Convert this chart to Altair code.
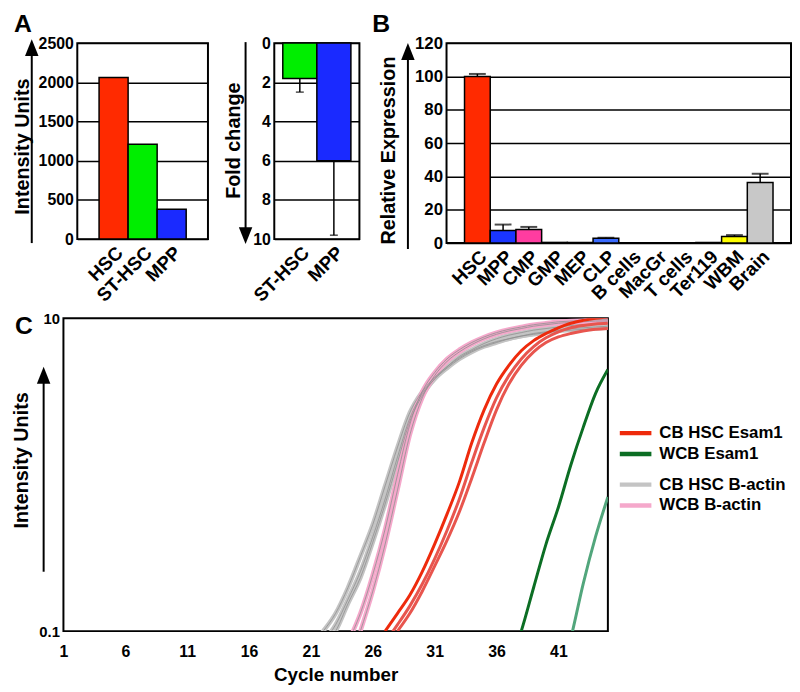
import altair as alt
import pandas as pd

FONT = "Liberation Sans"

# ---------------- Panel A (left): intensity ----------------
a_cells = ["HSC", "ST-HSC", "MPP"]
a_intensity = [2060, 1210, 380]
a_colors = ["#ff2a00", "#00ee00", "#1a2aff"]
a_ticks = [0, 500, 1000, 1500, 2000, 2500]

# ---------------- Panel A (right): fold change ----------------
fold_cells = ["ST-HSC", "MPP"]
fold_values = [1.8, 6.0]
fold_err_top = [2.5, 9.8]
fold_colors = ["#00ee00", "#1a2aff"]
fold_ticks = [0, 2, 4, 6, 8, 10]

# ---------------- Panel B: relative expression ----------------
b_cells = ["HSC", "MPP", "CMP", "GMP", "MEP", "CLP", "B cells", "MacGr",
           "T cells", "Ter119", "WBM", "Brain"]
b_values = [100, 7.6, 8.2, 0.4, 0.4, 2.9, 0, 0, 0, 0.4, 3.9, 36.4]
b_err_top = [101.5, 11.1, 9.7, None, None, 3.2, None, None, None, None, 4.8, 41.6]
b_colors = ["#ff2a00", "#1a35ff", "#ff3ca0", "#222222", "#222222", "#3a6bff",
            "#ffffff", "#ffffff", "#ffffff", "#222222", "#ffff00", "#c8c8c8"]
b_ticks = [0, 20, 40, 60, 80, 100, 120]

# ---------------- Panel C: amplification curves ----------------
gray_1_cycles = list(range(21, 46))
gray_1 = [0.08, 0.1, 0.13, 0.19, 0.3, 0.48, 0.85, 1.5, 2.5, 3.4, 4.2, 4.9, 5.6,
          6.2, 6.7, 7.1, 7.4, 7.7, 7.9, 8.1, 8.3, 8.4, 8.5, 8.6, 8.7]
gray_2_cycles = list(range(22, 46))
gray_2 = [0.085, 0.11, 0.16, 0.24, 0.4, 0.7, 1.3, 2.3, 3.3, 4.1, 4.8, 5.5, 6.1,
          6.6, 7.0, 7.4, 7.7, 8.0, 8.2, 8.4, 8.6, 8.7, 8.8, 8.9]
gray_3_cycles = list(range(22, 46))
gray_3 = [0.08, 0.1, 0.15, 0.22, 0.37, 0.65, 1.2, 2.2, 3.2, 4.1, 4.9, 5.7, 6.3,
          6.9, 7.4, 7.8, 8.1, 8.4, 8.6, 8.8, 9.0, 9.1, 9.2, 9.3]
pink_1_cycles = list(range(24, 46))
pink_1 = [0.085, 0.13, 0.23, 0.45, 1.0, 2.1, 3.4, 4.5, 5.5, 6.3, 7.0, 7.6, 8.1,
          8.5, 8.8, 9.1, 9.3, 9.5, 9.6, 9.7, 9.8, 9.8]
pink_2_cycles = list(range(25, 46))
pink_2 = [0.1, 0.18, 0.36, 0.8, 1.8, 3.1, 4.3, 5.3, 6.1, 6.8, 7.4, 7.9, 8.3,
          8.6, 8.9, 9.1, 9.3, 9.4, 9.5, 9.6, 9.6]
red_1_cycles = list(range(27, 46))
red_1 = [0.1, 0.13, 0.17, 0.24, 0.36, 0.56, 0.9, 1.6, 2.6, 3.8, 5.0, 6.2, 7.2,
         8.0, 8.7, 9.3, 9.7, 10.0, 10.2]
red_2_cycles = list(range(27, 46))
red_2 = [0.085, 0.11, 0.145, 0.2, 0.29, 0.44, 0.7, 1.2, 2.0, 3.1, 4.3, 5.5, 6.6,
         7.5, 8.2, 8.7, 9.0, 9.2, 9.3]
red_3_cycles = list(range(28, 46))
red_3 = [0.1, 0.13, 0.18, 0.26, 0.38, 0.58, 0.95, 1.6, 2.6, 3.8, 5.0, 6.1, 7.0,
         7.6, 8.0, 8.3, 8.5, 8.6]
green_1_cycles = list(range(37, 46))
green_1 = [0.06, 0.1, 0.19, 0.36, 0.62, 1.15, 2.0, 3.3, 4.7]
green_2_cycles = list(range(41, 46))
green_2 = [0.05, 0.09, 0.2, 0.4, 0.72]
c_xticks = [1, 6, 11, 16, 21, 26, 31, 36, 41]

esam_names = ["CB HSC Esam1", "WCB Esam1", "CB HSC Esam1 rep", "WCB Esam1 rep"]
esam_colors = ["#ee2a0c", "#0c6e24", "#e8554e", "#52a67c"]
actin_names = ["CB HSC B-actin", "WCB B-actin"]
actin_colors = ["#c4c4c4", "#f5a8cb"]

# ---------------- layout sizes ----------------
A1_W, A1_H = 132, 198
A2_W, A2_H = 86, 198
B_W, B_H = 348, 202
C_W, C_H = 550, 316

ARROW_UP = "M-0.8,1L0,-1L0.8,1Z"
ARROW_DOWN = "M-0.8,-1L0,1L0.8,-1Z"
LEGEND_LINE = "M-1.68,0L1.68,0"

ann = pd.DataFrame({"k": [0]})


def arrow(x, y_from, y_to, tip_y, up=True):
    line = alt.Chart(ann).mark_rule(color="black", strokeWidth=2).encode(
        x=alt.value(x), y=alt.value(y_from), y2=alt.value(y_to))
    center = tip_y + 8.5 if up else tip_y - 8.5
    head = alt.Chart(ann).mark_point(
        shape=ARROW_UP if up else ARROW_DOWN, filled=True, size=289,
        color="black", opacity=1).encode(x=alt.value(x), y=alt.value(center))
    return [line, head]


def panel_label(letter, x, y):
    return alt.Chart(ann).mark_text(
        text=letter, fontSize=25, fontWeight="bold", align="left",
        baseline="alphabetic", font=FONT, color="black").encode(
        x=alt.value(x), y=alt.value(y))


def band_x(domain, pad_outer, label_size=19):
    return alt.X("cell:N", sort=domain,
                 scale=alt.Scale(domain=domain, paddingInner=0, paddingOuter=pad_outer),
                 axis=alt.Axis(title=None, labelAngle=-45, labelFontSize=label_size,
                               labelFontWeight="bold", ticks=False, domain=False,
                               labelPadding=4, labelColor="black"))


def y_scale_axis(domain, ticks, title, title_x, title_y, reverse=False, label_size=16):
    scale = alt.Scale(domain=domain, nice=False, zero=True, reverse=reverse)
    axis = alt.Axis(values=ticks, format="d", title=title, grid=True,
                    gridColor="black", gridWidth=1.5, ticks=False, domain=False,
                    labelOverlap=False, labelFontSize=label_size,
                    labelFontWeight="bold", labelPadding=4, labelColor="black",
                    titleFontSize=20, titleFontWeight="bold",
                    titleAngle=-90, titleAlign="center",
                    titleBaseline="alphabetic", titleX=title_x,
                    titleY=title_y, titleColor="black")
    return scale, axis


def bar_panel(df, err_df, domain, colors, pad_outer, yspec, cap_size, cap_thick):
    scale, axis = yspec
    xenc = band_x(domain, pad_outer)
    bars = alt.Chart(df).mark_bar(stroke="black", strokeWidth=1.5).encode(
        x=xenc,
        y=alt.Y("value:Q", scale=scale, axis=axis),
        color=alt.Color("cell:N", scale=alt.Scale(domain=domain, range=colors), legend=None),
    )
    layers = [bars]
    if err_df is not None:
        rule = alt.Chart(err_df).mark_rule(color="black", strokeWidth=1.5).encode(
            x=xenc, y=alt.Y("value:Q", scale=scale, axis=axis), y2="top:Q")
        cap = alt.Chart(err_df).mark_tick(color="black", size=cap_size,
                                          thickness=cap_thick).encode(
            x=xenc, y=alt.Y("top:Q", scale=scale, axis=axis))
        layers += [rule, cap]
    return layers


# ---------- A1 ----------
a1_df = pd.DataFrame({"cell": a_cells, "value": a_intensity})
a1_layers = bar_panel(a1_df, None, a_cells, a_colors, 0.75,
                      y_scale_axis([0, 2500], a_ticks, "Intensity Units", -49, 104), 0, 0)
a1 = alt.layer(*a1_layers, *arrow(-46, A1_H + 4, 10, -4, up=True),
               panel_label("A", -64, -11)).properties(width=A1_W, height=A1_H)

# ---------- A2 ----------
a2_df = pd.DataFrame({"cell": fold_cells, "value": fold_values, "top": fold_err_top})
a2_layers = bar_panel(a2_df, a2_df, fold_cells, fold_colors, 0.25,
                      y_scale_axis([0, 10], fold_ticks, "Fold change", -35, 98, reverse=True),
                      8, 1.5)
a2 = alt.layer(*a2_layers,
               *arrow(-29, -1, A2_H - 8, A2_H + 5, up=False)).properties(width=A2_W, height=A2_H)

# ---------- B ----------
b_df = pd.DataFrame({"cell": b_cells, "value": b_values, "top": b_err_top})
b_err_df = b_df.dropna()
b_layers = bar_panel(b_df, b_err_df, b_cells, b_colors, 0.7,
                     y_scale_axis([0, 120], b_ticks, "Relative Expression", -53, 108,
                                  label_size=17), 17, 2)
b = alt.layer(*b_layers, *arrow(-39, B_H + 6, 12, 0, up=True),
              panel_label("B", -75, -11)).properties(width=B_W, height=B_H)

# ---------- C ----------
def curve_rows(name, series, cycles, values):
    return [{"curve": name, "series": series, "cycle": c, "value": v}
            for c, v in zip(cycles, values)]

actin_rows = (curve_rows("g1", "CB HSC B-actin", gray_1_cycles, gray_1)
              + curve_rows("g2", "CB HSC B-actin", gray_2_cycles, gray_2)
              + curve_rows("g3", "CB HSC B-actin", gray_3_cycles, gray_3)
              + curve_rows("p1", "WCB B-actin", pink_1_cycles, pink_1)
              + curve_rows("p2", "WCB B-actin", pink_2_cycles, pink_2))
esam_rows = (curve_rows("r1", "CB HSC Esam1", red_1_cycles, red_1)
             + curve_rows("r2", "CB HSC Esam1 rep", red_2_cycles, red_2)
             + curve_rows("r3", "CB HSC Esam1 rep", red_3_cycles, red_3)
             + curve_rows("w1", "WCB Esam1", green_1_cycles, green_1)
             + curve_rows("w2", "WCB Esam1 rep", green_2_cycles, green_2))
actin_df = pd.DataFrame(actin_rows)
esam_df = pd.DataFrame(esam_rows)

cx = alt.X("cycle:Q", scale=alt.Scale(domain=[1, 45], nice=False, zero=False),
           axis=alt.Axis(values=c_xticks, title="Cycle number", grid=False, ticks=False,
                         domain=False, labelFlush=False, labelFontSize=16,
                         labelFontWeight="bold", labelPadding=13, labelColor="black",
                         titleFontSize=19, titleFontWeight="bold", titlePadding=6,
                         titleColor="black"))
cy = alt.Y("value:Q", scale=alt.Scale(type="log", domain=[0.1, 10], nice=False),
           axis=alt.Axis(values=[0.1, 10], format="~g", title="Intensity Units",
                         grid=False, ticks=False, domain=False, labelFontSize=15,
                         labelFontWeight="bold", labelPadding=4, labelColor="black",
                         titleFontSize=20, titleFontWeight="bold", titleAngle=-90,
                         titleAlign="center", titleBaseline="alphabetic",
                         titleX=-36, titleY=143, titleColor="black"))

legend_common = dict(title=None, orient="none", legendX=C_W + 16, symbolType=LEGEND_LINE,
                     symbolSize=361, symbolStrokeWidth=4.5, labelFontSize=17,
                     labelFontWeight="bold", labelOffset=12, labelColor="black",
                     padding=0, rowPadding=0)

actin_lines = alt.Chart(actin_df).mark_line(strokeWidth=4.5, interpolate="monotone", clip=True).encode(
    x=cx, y=cy,
    stroke=alt.Stroke("series:N", scale=alt.Scale(domain=actin_names, range=actin_colors),
                      legend=alt.Legend(legendY=156, **legend_common)),
    detail="curve:N",
)
actin_core = alt.Chart(actin_df).mark_line(strokeWidth=1, interpolate="monotone", clip=True,
                                           stroke="#8f8f8f", opacity=0.8).encode(
    x=cx, y=cy, detail="curve:N")
esam_lines = alt.Chart(esam_df).mark_line(strokeWidth=3, interpolate="monotone", clip=True).encode(
    x=cx, y=cy,
    color=alt.Color("series:N", scale=alt.Scale(domain=esam_names, range=esam_colors),
                    legend=alt.Legend(legendY=104, values=["CB HSC Esam1", "WCB Esam1"],
                                      **legend_common)),
    detail="curve:N",
)
c = alt.layer(actin_lines, actin_core, esam_lines,
              *arrow(-20, 256, 60, 49, up=True),
              panel_label("C", -49, 16)).properties(width=C_W, height=C_H)


def spacer(w):
    return alt.Chart(ann).mark_point(opacity=0, size=0).encode(
        x=alt.value(0), y=alt.value(0)).properties(
        width=w, height=1, view=alt.ViewBackground(stroke="transparent"))


INDEP = dict(color="independent", stroke="independent", x="independent", y="independent")

top_row = alt.hconcat(spacer(1), a1, spacer(12), a2, spacer(9), b,
                      spacing=0).resolve_scale(**INDEP)
bottom_row = alt.hconcat(spacer(1), c, spacing=0).resolve_scale(**INDEP)

chart = alt.vconcat(top_row, bottom_row, spacing=4).resolve_scale(**INDEP).properties(
    padding=0
).configure(font=FONT).configure_view(
    stroke="black", strokeWidth=2
).configure_axis(
    labelFont=FONT, titleFont=FONT
).configure_legend(labelFont=FONT)

chart.save("out.html", embed_options={"renderer": "svg", "actions": False})
